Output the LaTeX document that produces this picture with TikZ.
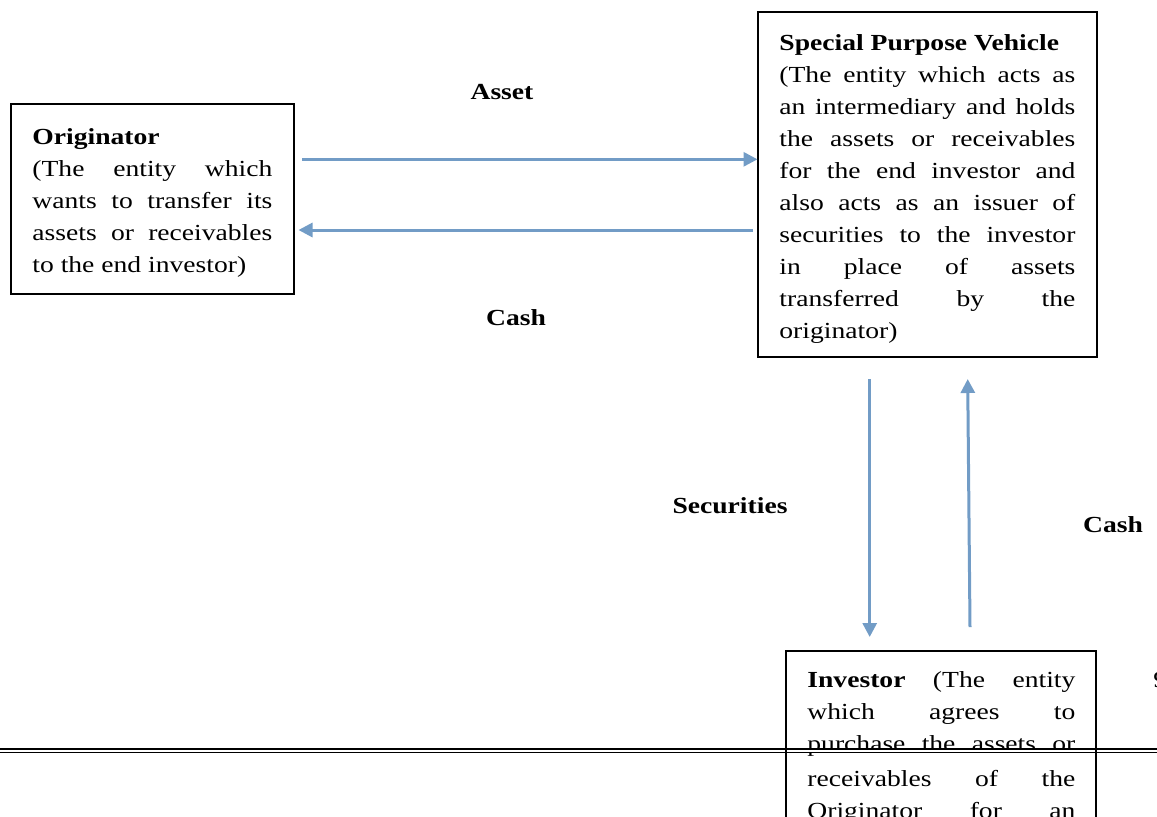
\documentclass[tikz,border=0pt]{standalone}
\usepackage{fontspec}
\setmainfont{Liberation Serif}[FakeStretch=1.2]
\usetikzlibrary{arrows.meta,fit}
\definecolor{flowblue}{RGB}{114,156,198}
\newcommand{\jl}[2]{\makebox[#1][s]{#2}}
\begin{document}
\begin{tikzpicture}[x=0.5pt,y=-0.5pt,
  box/.style={draw=black,line width=0.8pt,inner sep=0pt},
  txt/.style={anchor=base west,inner sep=0pt,font=\fontsize{11.5pt}{16pt}\selectfont},
  lbl/.style={anchor=base,inner sep=0pt,font=\fontsize{11.5pt}{16pt}\selectfont\bfseries},
  flow/.style={draw=flowblue,line width=1.5pt,-{Triangle[length=7pt,width=7pt]}}]
\useasboundingbox (0,0) rectangle (1157,816);
\clip (0,0) rectangle (1157,816);

% boxes
\node[box,fit={(11,104) (294,294)}] (orig) {};
\node[box,fit={(758,12) (1097,357)}] (spv) {};
\node[box,fit={(786,651) (1096,860)}] (inv) {};

% box texts
\node[txt] (origtxt) at (32,144) {\parbox[t]{120pt}{\raggedright
\textbf{Originator}\\
\jl{120pt}{(The entity which}\\
\jl{120pt}{wants to transfer its}\\
\jl{120pt}{assets or receivables}\\
to the end investor)}};

\node[txt] (spvtxt) at (779,50) {\parbox[t]{148pt}{\raggedright
\textbf{Special Purpose Vehicle}\\
\jl{148pt}{(The entity which acts as}\\
\jl{148pt}{an intermediary and holds}\\
\jl{148pt}{the assets or receivables}\\
\jl{148pt}{for the end investor and}\\
\jl{148pt}{also acts as an issuer of}\\
\jl{148pt}{securities to the investor}\\
\jl{148pt}{in place of assets}\\
\jl{148pt}{transferred by the}\\
originator)}};

\node[txt] (invtxt) at (807,687) {\parbox[t]{134pt}{\raggedright
\jl{134pt}{\textbf{Investor} (The entity}\\
\jl{134pt}{which agrees to}\\
\jl{134pt}{purchase the assets or}\\[1.5pt]
\jl{134pt}{receivables of the}\\
\jl{134pt}{Originator for an}\\
\jl{134pt}{end investor}}};

\node[txt] (pg) at (1153,687) {9};

% labels
\node[lbl] (lasset) at (502,99) {Asset};
\node[lbl] (lcash1) at (516,325) {Cash};
\node[lbl] (lsec) at (730,513) {Securities};
\node[lbl] (lcash2) at (1113,532) {Cash};

% arrow end points
\coordinate (a1s) at (302,159.3);
\coordinate (a1e) at (757.5,159.3);
\coordinate (a2s) at (753,230);
\coordinate (a2e) at (298.5,230);
\coordinate (a3s) at (869.7,379);
\coordinate (a3e) at (869.7,637);
\coordinate (a4s) at (970,627);
\coordinate (a4e) at (967.7,379);

\draw[flow] (a1s) -- (a1e);
\draw[flow] (a2s) -- (a2e);
\draw[flow] (a3s) -- (a3e);
\draw[flow] (a4s) -- (a4e);

% page break rule
\fill[white] (800,748) rectangle (1085,753);
\draw[line width=1pt] (0,748.8) -- (1157,748.8);
\draw[line width=0.5pt] (0,752.2) -- (1157,752.2);
\end{tikzpicture}
\end{document}
